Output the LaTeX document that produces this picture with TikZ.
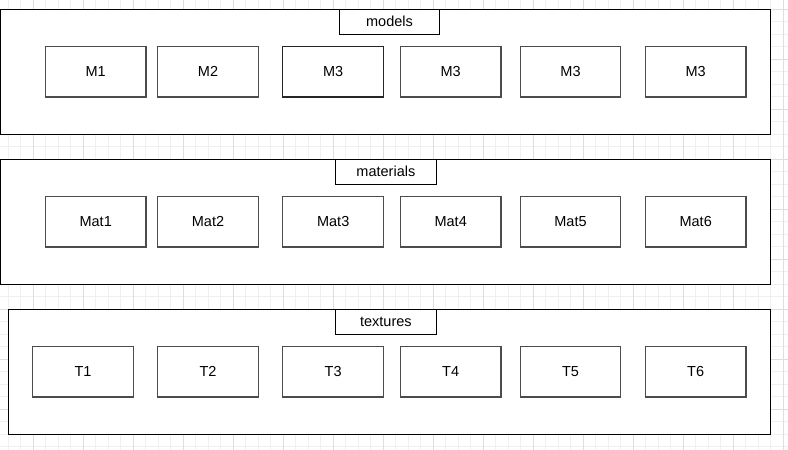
\documentclass[tikz,border=0pt]{standalone}
\usepackage{fontspec}
\setmainfont{Liberation Sans}
\begin{document}
\begin{tikzpicture}[x=1pt,y=-1pt,
  container/.style={draw=black,line width=1pt,fill=white,minimum width=769.7pt,minimum height=125pt,inner sep=0pt},
  titlebox/.style={draw=black,line width=1pt,fill=white,minimum width=100.4pt,minimum height=24.7pt,inner sep=0pt,font=\fontsize{14.5}{17}\selectfont},
  item/.style={draw=black!70,line width=1.2pt,fill=white,minimum width=100.7pt,minimum height=50.3pt,inner sep=0pt,font=\fontsize{14.5}{17}\selectfont},
  itemdark/.style={item,draw=black!85},
  minorgrid/.style={draw={rgb,255:red,240;green,240;blue,240},line width=0.8pt},
  majorgrid/.style={draw={rgb,255:red,222;green,222;blue,222},line width=0.8pt}]
\useasboundingbox (0,0) rectangle (788,450);
\fill[white] (0,0) rectangle (788,450);
% grid
\foreach \i in {0,...,63} {\draw[minorgrid] ({8.3+12.5*\i},0) -- ({8.3+12.5*\i},450);}
\foreach \i in {0,...,36} {\draw[minorgrid] (0,{9+12.5*\i}) -- (788,{9+12.5*\i});}
\foreach \i in {0,...,15} {\draw[majorgrid] ({33.3+50*\i},0) -- ({33.3+50*\i},450);}
\foreach \i in {0,...,8} {\draw[majorgrid] (0,{9+50*\i}) -- (788,{9+50*\i});}
% containers
\node[container] (models) at (385.8,71.8) {};
\node[container] (materials) at (385.8,221.8) {};
\node[container,minimum width=762.4pt] (textures) at (389.5,371.8) {};
\node[titlebox] (tmodels) at (389.5,21.7) {models};
\node[titlebox] (tmaterials) at (385.9,171.7) {materials};
\node[titlebox] (ttextures) at (385.9,321.7) {textures};
% models
\node[item] (m1) at (95.7,71.8) {M1};
\node[item] (m2) at (208,71.8) {M2};
\node[itemdark] (m3a) at (333.2,71.8) {M3};
\node[item] (m3b) at (450.7,71.8) {M3};
\node[item] (m3c) at (570.5,71.8) {M3};
\node[item] (m3d) at (695.7,71.8) {M3};
% materials
\node[item] (mat1) at (95.7,221.8) {Mat1};
\node[item] (mat2) at (208,221.8) {Mat2};
\node[item] (mat3) at (333.2,221.8) {Mat3};
\node[item] (mat4) at (450.7,221.8) {Mat4};
\node[item] (mat5) at (570.5,221.8) {Mat5};
\node[item] (mat6) at (695.7,221.8) {Mat6};
% textures
\node[item] (t1) at (83,371.8) {T1};
\node[item] (t2) at (208,371.8) {T2};
\node[item] (t3) at (333.2,371.8) {T3};
\node[item] (t4) at (450.7,371.8) {T4};
\node[item] (t5) at (570.5,371.8) {T5};
\node[item] (t6) at (695.7,371.8) {T6};
\end{tikzpicture}
\end{document}
